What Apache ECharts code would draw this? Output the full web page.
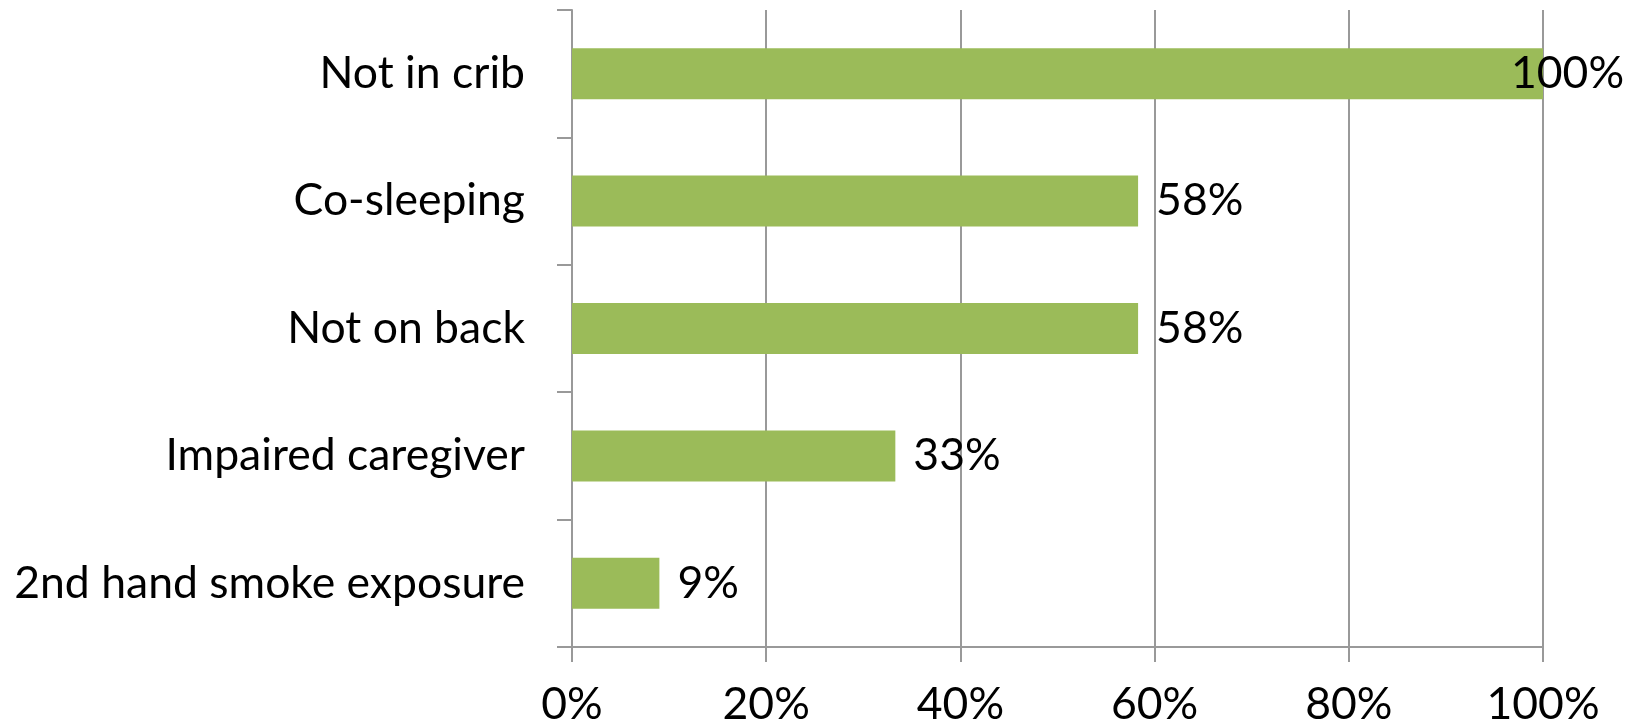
<!DOCTYPE html>
<html>
<head>
<meta charset="utf-8">
<script src="https://cdn.jsdelivr.net/npm/echarts@6/dist/echarts.min.js"></script>
<style>
html,body{margin:0;padding:0;background:#fff;}
#chart{width:1635px;height:728px;}
</style>
</head>
<body>
<div id="chart"></div>
<script>
const categories = ["Not in crib", "Co-sleeping", "Not on back", "Impaired caregiver", "2nd hand smoke exposure"];
const values = [100, 58.3, 58.3, 33.3, 9];
const xTicks = [0, 20, 40, 60, 80, 100];

const FONT = 'Lato';
const chart = echarts.init(document.getElementById('chart'));
const barData = values.map(function (v) {
  const item = { value: v };
  if (v >= 100) item.label = { offset: [-50, 0] };
  return item;
});
chart.setOption({
  animation: false,
  grid: { left: 572, right: 92, top: 10, bottom: 81, containLabel: false },
  xAxis: {
    type: 'value',
    min: xTicks[0],
    max: xTicks[xTicks.length - 1],
    interval: xTicks[1] - xTicks[0],
    axisLine: { show: true, lineStyle: { color: '#999', width: 2 } },
    axisTick: { show: true, length: 15, lineStyle: { color: '#999', width: 2 } },
    splitLine: { show: true, lineStyle: { color: '#999', width: 2 } },
    axisLabel: { formatter: '{value}%', color: '#000', fontFamily: FONT, fontSize: 44.5, margin: 35 }
  },
  yAxis: {
    type: 'category',
    data: categories,
    inverse: true,
    axisLine: { show: true, lineStyle: { color: '#999', width: 2 } },
    axisTick: { show: true, length: 15, lineStyle: { color: '#999', width: 2 } },
    axisLabel: { color: '#000', fontFamily: FONT, fontSize: 44.5, margin: 47 }
  },
  series: [{
    type: 'bar',
    data: barData,
    barWidth: '40%',
    itemStyle: { color: '#9BBB59' },
    label: {
      show: true,
      position: 'right',
      distance: 18,
      formatter: function (p) { return Math.round(p.value) + '%'; },
      color: '#000',
      fontFamily: FONT,
      fontSize: 44.5
    }
  }]
});
</script>
</body>
</html>
